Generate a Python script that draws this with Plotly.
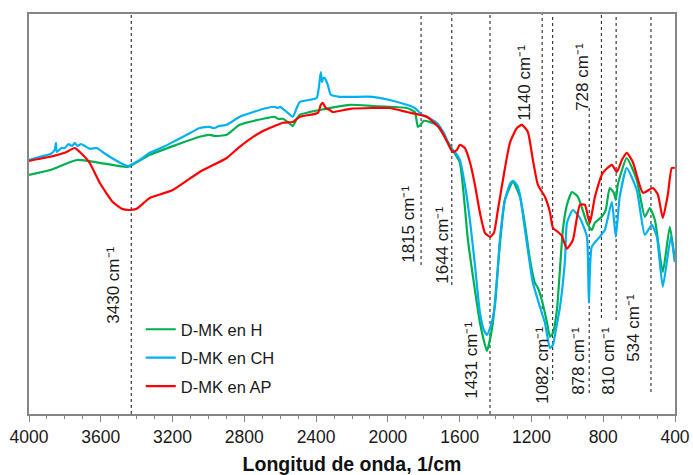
import plotly.graph_objects as go

# FTIR spectra (wavenumber in cm^-1, relative transmittance)
wn_h = [4000, 3883, 3733, 3605, 3449, 3327, 3177, 3049, 2993, 2965, 2898, 2826, 2675, 2630,
        2613, 2585, 2558, 2530, 2508, 2491, 2379, 2211, 2084, 1895, 1850, 1833, 1817, 1800,
        1728, 1683, 1639, 1599, 1554, 1515, 1487, 1448, 1415, 1376, 1348, 1303, 1264, 1236,
        1208, 1181, 1164, 1142, 1114, 1097, 1080, 1058, 1025, 1002, 974, 941, 891, 864, 847,
        808, 786, 764, 741, 730, 719, 669, 613, 568, 540, 512, 468, 429, 401]
t_h = [59.8, 61.0, 63.5, 62.8, 61.8, 64.8, 67.3, 69.3, 69.8, 69.5, 69.8, 72.3, 74.0, 74.3,
       73.8, 73.8, 73.0, 72.0, 73.8, 74.8, 76.0, 77.3, 77.0, 76.5, 75.5, 71.8, 72.3, 73.3,
       72.3, 69.3, 66.0, 62.8, 43.5, 31.0, 22.8, 15.8, 22.8, 42.3, 53.5, 58.0, 54.3, 47.3,
       38.5, 32.8, 31.5, 28.5, 23.0, 19.3, 20.3, 26.0, 46.0, 52.3, 55.5, 54.3, 47.8, 46.0, 47.8,
       49.3, 51.0, 56.5, 55.3, 53.5, 57.3, 64.0, 58.5, 49.3, 51.5, 48.5, 35.5, 46.8, 38.5]

wn_ch = [4000, 3940, 3880, 3857, 3850, 3845, 3820, 3801, 3780, 3760, 3745, 3730, 3710, 3689,
         3660, 3622, 3590, 3550, 3500, 3449, 3383, 3327, 3250, 3177, 3100, 3049, 2993, 2975,
         2965, 2940, 2898, 2826, 2750, 2675, 2630, 2613, 2600, 2585, 2558, 2530, 2508, 2491,
         2397, 2385, 2374, 2367, 2360, 2352, 2335, 2318, 2268, 2084, 1990, 1895, 1850, 1811,
         1790, 1728, 1683, 1655, 1627, 1599, 1571, 1543, 1515, 1487, 1465, 1448, 1431, 1404,
         1376, 1348, 1320, 1303, 1281, 1264, 1236, 1208, 1192, 1153, 1125, 1097, 1080, 1064,
         1041, 1013, 1002, 969, 930, 891, 880, 864, 819, 791, 752, 730, 708, 669, 613, 568,
         529, 501, 468, 423, 401]
t_ch = [63.5, 64.3, 65.0, 66.0, 67.8, 65.5, 66.5, 66.5, 67.5, 67.0, 67.8, 67.0, 67.5, 67.0,
        66.3, 66.5, 65.5, 64.3, 63.0, 62.0, 63.5, 65.3, 66.8, 68.5, 70.3, 71.5, 71.8, 71.5,
        71.5, 72.0, 72.3, 74.3, 75.5, 76.5, 76.8, 76.5, 76.8, 76.3, 75.3, 74.3, 76.5, 78.0,
        79.0, 81.5, 85.5, 83.0, 84.0, 84.0, 82.3, 79.8, 79.3, 79.3, 78.5, 77.3, 76.5, 74.8,
        74.5, 72.8, 69.8, 66.8, 65.5, 63.5, 57.3, 48.5, 37.3, 25.3, 21.0, 19.8, 21.5, 26.8,
        43.5, 53.5, 57.5, 58.3, 57.3, 54.8, 46.0, 37.3, 32.8, 26.8, 22.8, 16.5, 17.3, 21.0,
        26.8, 38.5, 47.8, 51.0, 49.0, 44.3, 27.8, 41.8, 44.3, 46.0, 53.0, 44.3, 54.3, 61.5,
        56.0, 44.8, 47.3, 44.3, 31.8, 44.3, 38.0]

wn_ap = [4000, 3883, 3801, 3745, 3717, 3662, 3606, 3533, 3483, 3439, 3400, 3355, 3327, 3199,
         3049, 2898, 2826, 2714, 2585, 2530, 2491, 2390, 2374, 2363, 2346, 2324, 2307, 2211,
         2084, 1990, 1895, 1784, 1712, 1667, 1639, 1616, 1599, 1571, 1543, 1515, 1487, 1459,
         1431, 1409, 1387, 1359, 1320, 1281, 1253, 1220, 1192, 1164, 1125, 1097, 1080, 1052,
         1030, 1002, 969, 930, 902, 885, 874, 846, 802, 752, 724, 696, 669, 635, 579, 523,
         495, 468, 440, 418, 401]
t_ap = [63.3, 64.3, 65.3, 66.5, 65.5, 62.8, 57.8, 53.0, 51.3, 51.0, 51.3, 53.0, 54.0, 56.0,
        60.5, 64.0, 66.8, 70.3, 72.8, 73.0, 74.3, 75.3, 77.3, 77.8, 76.5, 76.0, 75.5, 76.3,
        76.5, 76.5, 75.5, 74.3, 71.5, 67.8, 65.5, 66.0, 67.3, 66.5, 63.0, 57.3, 50.3, 45.3,
        44.3, 45.3, 51.0, 58.5, 67.8, 71.5, 72.3, 70.5, 63.5, 57.3, 54.3, 50.5, 46.5, 45.5,
        44.5, 41.3, 43.5, 52.3, 52.3, 49.3, 47.8, 54.3, 60.3, 62.3, 60.5, 63.5, 65.3, 63.0,
        55.3, 56.5, 54.8, 49.0, 54.8, 61.5, 61.5]

series_names = ["D-MK en H", "D-MK en CH", "D-MK en AP"]
series_colors = ["#00B050", "#00B0F0", "#FF0000"]

# Assigned bands
band_values = [3430, 1815, 1644, 1431, 1140, 1082, 878, 810, 728, 534]

# Per-band guide extent (paper y) and label placement
guide_y0 = [0.0, 0.3725, 0.3225, 0.0, 0.2475, 0.085, 0.0525, 0.24, 0.235, 0.055]
guide_y1 = [1.0, 1.0, 1.0, 1.0, 1.0, 1.0, 0.7725, 1.0, 1.0, 1.0]
label_dx = [-18.6, -13.3, -10, -19.2, -18.4, -10.8, -11.4, 6.4, -33.3, -18.1]
label_y = [0.3225, 0.475, 0.4225, 0.135, 0.8275, 0.1225, 0.1325, 0.1325, 0.8425, 0.215]

FONT = "Liberation Sans, Arial, sans-serif"

fig = go.Figure()
for wn, t, name, color in zip([wn_h, wn_ch, wn_ap], [t_h, t_ch, t_ap], series_names, series_colors):
    fig.add_trace(go.Scatter(
        x=wn, y=t, mode="lines", name=name, legendgroup=name,
        line=dict(color=color, width=2.2, shape="spline", smoothing=0.5),
    ))

for b, y0, y1, dx, ly in zip(band_values, guide_y0, guide_y1, label_dx, label_y):
    fig.add_shape(type="line", xref="x", yref="paper", x0=b, x1=b, y0=y0, y1=y1,
                  line=dict(color="#3a3a3a", width=1.2, dash="3px,3px"), layer="below")
    fig.add_annotation(x=b, xref="x", y=ly, yref="paper", xshift=dx,
                       xanchor="center", yanchor="middle",
                       text=f"{b} cm⁻¹", textangle=-90, showarrow=False,
                       font=dict(family=FONT, size=17, color="#1a1a1a"))

fig.update_layout(
    width=693, height=475,
    margin=dict(l=29, r=18, t=14, b=61),
    plot_bgcolor="white", paper_bgcolor="white",
    font=dict(family=FONT, color="#1a1a1a"),
    showlegend=True,
    legend=dict(x=0.173, y=0.255, xanchor="left", yanchor="top",
                bgcolor="rgba(0,0,0,0)", font=dict(family=FONT, size=16.5),
                tracegroupgap=4, itemwidth=30),
    xaxis=dict(
        range=[4000, 400], tickvals=[4000, 3600, 3200, 2800, 2400, 2000, 1600, 1200, 800, 400],
        automargin=False,
        ticks="outside", ticklen=6, tickcolor="#868686", tickwidth=1.3,
        minor=dict(dtick=100, ticks="outside", ticklen=3, tickcolor="#868686", tickwidth=1.3),
        showline=True, linecolor="#868686", linewidth=1.5, mirror=True,
        showgrid=False, zeroline=False,
        tickfont=dict(family=FONT, size=17.5, color="#1a1a1a"),
        title=dict(text="<b>Longitud de onda, 1/cm</b>", standoff=13,
                   font=dict(family=FONT, size=19.5, color="#111111")),
    ),
    yaxis=dict(
        range=[0, 100], showticklabels=False, ticks="", automargin=False,
        showline=True, linecolor="#868686", linewidth=1.5, mirror=True,
        showgrid=False, zeroline=False,
    ),
)

fig.write_html("out.html")
